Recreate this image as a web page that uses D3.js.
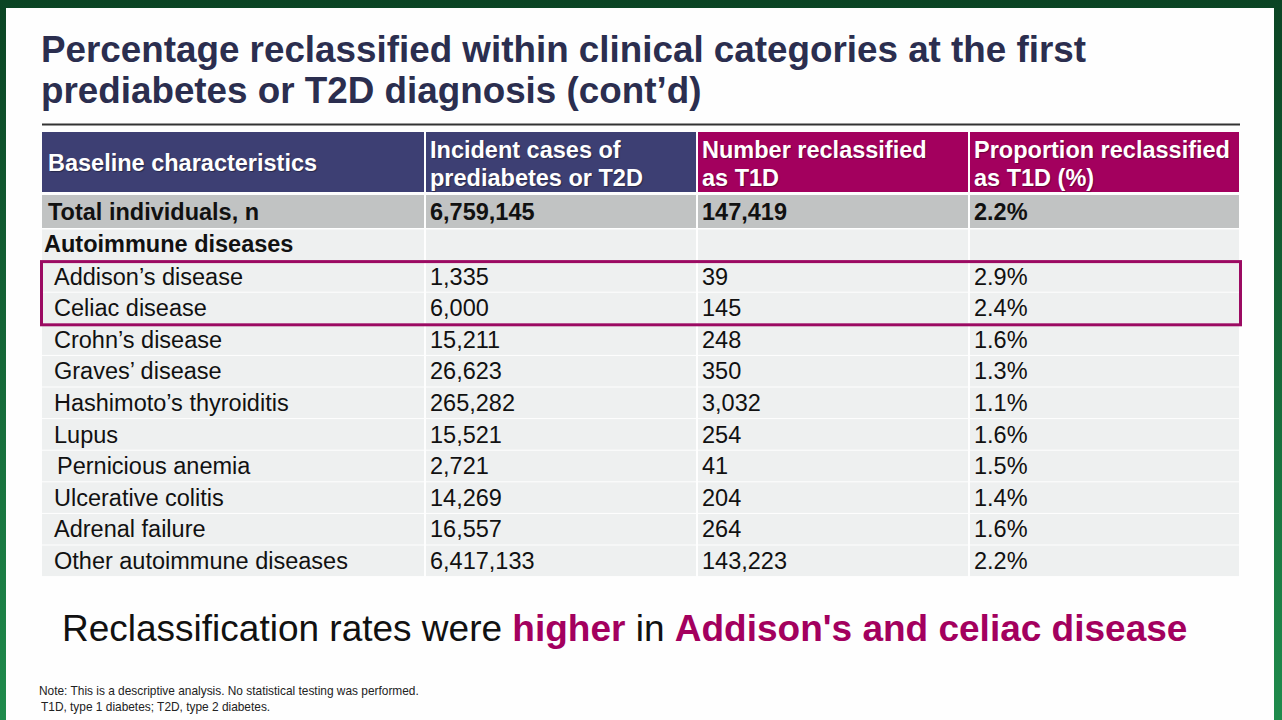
<!DOCTYPE html>
<html>
<head>
<meta charset="utf-8">
<script src="https://cdn.jsdelivr.net/npm/d3@7"></script>
<style>
  body { margin: 0; background: #fff; }
  svg { display: block; font-family: "Liberation Sans", Arial, sans-serif; }
</style>
</head>
<body>
<div id="slide"></div>
<script>
// ---- data ----
const titleLines = [
  'Percentage reclassified within clinical categories at the first',
  'prediabetes or T2D diagnosis (cont\u2019d)',
];
const headers = [
  ['Baseline characteristics'],
  ['Incident cases of', 'prediabetes or T2D'],
  ['Number reclassified', 'as T1D'],
  ['Proportion reclassified', 'as T1D (%)'],
];
const totalRow = ['Total individuals, n', '6,759,145', '147,419', '2.2%'];
const groupLabel = 'Autoimmune diseases';
const diseases = [
  'Addison\u2019s disease', 'Celiac disease', 'Crohn\u2019s disease', 'Graves\u2019 disease',
  'Hashimoto\u2019s thyroiditis', 'Lupus', 'Pernicious anemia', 'Ulcerative colitis',
  'Adrenal failure', 'Other autoimmune diseases',
];
const incidentCases = ['1,335', '6,000', '15,211', '26,623', '265,282', '15,521', '2,721', '14,269', '16,557', '6,417,133'];
const reclassified = ['39', '145', '248', '350', '3,032', '254', '41', '204', '264', '143,223'];
const proportion = ['2.9%', '2.4%', '1.6%', '1.3%', '1.1%', '1.6%', '1.5%', '1.4%', '1.6%', '2.2%'];
const highlighted = ['Addison\u2019s disease', 'Celiac disease'];
const takeaway = [
  { text: 'Reclassification rates were ', strong: false },
  { text: 'higher', strong: true },
  { text: ' in ', strong: false },
  { text: 'Addison\'s and celiac disease', strong: true },
];
const notes = [
  'Note: This is a descriptive analysis. No statistical testing was performed.',
  'T1D, type 1 diabetes; T2D, type 2 diabetes.',
];

const W = 1282;
const H = 720;
const navy = '#3d3f73';
const magenta = '#a3005e';
const cellGrey = '#eef0f0';
const cellFont = '23.5px';

const svg = d3.select('#slide').append('svg')
  .attr('width', W)
  .attr('height', H);

// green frame
const grad = svg.append('defs').append('linearGradient')
  .attr('id', 'frame')
  .attr('x1', 0).attr('y1', 0).attr('x2', 0).attr('y2', 1);
grad.append('stop').attr('offset', '0%').attr('stop-color', '#0b4424');
grad.append('stop').attr('offset', '100%').attr('stop-color', '#1f8b4c');
svg.append('rect').attr('width', W).attr('height', H).attr('fill', 'url(#frame)');
svg.append('rect')
  .attr('x', 6).attr('y', 8)
  .attr('width', 1268).attr('height', 712)
  .attr('fill', '#fefefe');

// title
svg.append('text')
  .attr('x', 42)
  .attr('fill', '#2b2e4f')
  .style('font-size', '36.8px')
  .style('font-weight', 'bold')
  .selectAll('tspan')
  .data(titleLines)
  .join('tspan')
  .attr('x', 41)
  .attr('y', (d, i) => 62 + i * 41)
  .text((d) => d);

svg.append('line')
  .attr('x1', 42).attr('x2', 1240)
  .attr('y1', 124.5).attr('y2', 124.5)
  .attr('stroke', '#333')
  .attr('stroke-width', 2);

// columns
const colEdges = [42, 425, 697, 969, 1240];
const x = d3.scaleOrdinal().domain(d3.range(4)).range(colEdges.slice(0, 4));
const colW = (i) => colEdges[i + 1] - colEdges[i];

// header
const head = svg.append('g');
head.selectAll('rect')
  .data(headers)
  .join('rect')
  .attr('x', (d, i) => x(i) + (i ? 1 : 0))
  .attr('y', 132)
  .attr('width', (d, i) => colW(i) - (i ? 1 : 0) - 1)
  .attr('height', 60)
  .attr('fill', (d, i) => (i < 2 ? navy : magenta));

head.selectAll('text')
  .data(headers)
  .join('text')
  .attr('fill', '#fff')
  .style('font-size', cellFont)
  .style('font-weight', 'bold')
  .style('text-shadow', '1px 1px 1px rgba(0,0,0,0.35)')
  .each((d, i, nodes) => {
    d3.select(nodes[i]).selectAll('tspan')
      .data(d)
      .join('tspan')
      .attr('x', x(i) + (i ? 5 : 6))
      .attr('y', (t, j) => (d.length === 1 ? 171 : 158 + j * 28))
      .text((t) => t);
  });

// total row
const tot = svg.append('g');
tot.selectAll('rect')
  .data(totalRow)
  .join('rect')
  .attr('x', (d, i) => x(i) + (i ? 1 : 0))
  .attr('y', 195)
  .attr('width', (d, i) => colW(i) - (i ? 1 : 0) - 1)
  .attr('height', 33)
  .attr('fill', '#c1c3c3');
tot.selectAll('text')
  .data(totalRow)
  .join('text')
  .attr('x', (d, i) => x(i) + (i ? 5 : 6))
  .attr('y', 220)
  .style('font-size', cellFont)
  .style('font-weight', 'bold')
  .attr('fill', '#111')
  .text((d) => d);

// body rows
const rowKeys = [groupLabel, ...diseases];
const y = d3.scaleBand().domain(rowKeys).range([229, 576.6]);

const rows = [
  { label: groupLabel, cells: ['', '', ''], group: true },
  ...diseases.map((d, i) => ({
    label: d, cells: [incidentCases[i], reclassified[i], proportion[i]], group: false,
  })),
];

const rowG = svg.append('g')
  .selectAll('g')
  .data(rows)
  .join('g')
  .attr('transform', (d) => `translate(0,${y(d.label)})`);

rowG.selectAll('rect')
  .data((d) => [d.label, ...d.cells])
  .join('rect')
  .attr('x', (d, i) => x(i) + (i ? 1 : 0))
  .attr('y', 0.5)
  .attr('width', (d, i) => colW(i) - (i ? 1 : 0) - 1)
  .attr('height', y.bandwidth() - 1)
  .attr('fill', cellGrey);

rowG.selectAll('text')
  .data((d) => [d.label, ...d.cells].map((v) => ({ v, group: d.group, label: d.label })))
  .join('text')
  .attr('x', (d, i) => {
    if (i > 0) return x(i) + 5;
    if (d.group) return 44;
    return d.label === 'Pernicious anemia' ? 57 : 54;
  })
  .attr('y', (d) => (d.group ? 23 : 24))
  .style('font-size', cellFont)
  .style('font-weight', (d) => (d.group ? 'bold' : 'normal'))
  .attr('fill', '#111')
  .text((d) => d.v);

// highlight box around Addison's and celiac
svg.append('rect')
  .attr('x', 41.5)
  .attr('y', y(highlighted[0]) + 1)
  .attr('width', 1199)
  .attr('height', y(highlighted[1]) + y.bandwidth() - y(highlighted[0]))
  .attr('fill', 'none')
  .attr('stroke', '#9b0a62')
  .attr('stroke-width', 3);

// takeaway
svg.append('text')
  .attr('x', 62)
  .attr('y', 641)
  .style('font-size', '37px')
  .attr('fill', '#111')
  .selectAll('tspan')
  .data(takeaway)
  .join('tspan')
  .attr('fill', (d) => (d.strong ? magenta : '#111'))
  .style('font-weight', (d) => (d.strong ? 'bold' : 'normal'))
  .text((d) => d.text);

// footnotes
svg.append('g')
  .selectAll('text')
  .data(notes)
  .join('text')
  .attr('x', (d, i) => 39 + i * 2)
  .attr('y', (d, i) => 695 + i * 16)
  .style('font-size', '11.9px')
  .attr('fill', '#222')
  .text((d) => d);
</script>
</body>
</html>
